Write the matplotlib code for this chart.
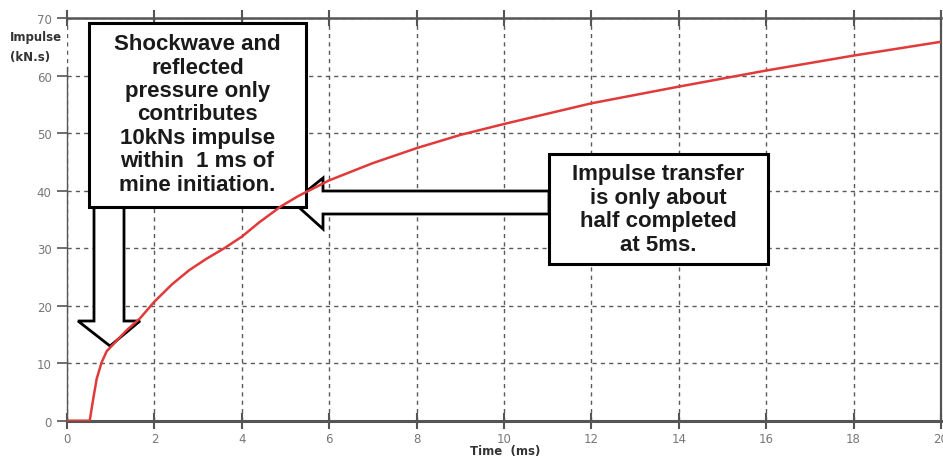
import matplotlib
matplotlib.use("Agg")
import matplotlib.pyplot as plt
from matplotlib.patches import Rectangle, Polygon
from matplotlib.transforms import Affine2D

# ---- data ----
time_ms = [0, 0.52, 0.60, 0.68, 0.79, 0.91, 1.06, 1.36, 1.67, 2.0, 2.4, 2.8,
           3.2, 3.6, 4.0, 4.4, 4.9, 5.3, 6.0, 7.0, 8.0, 9.0, 10.0, 12.0, 14.0,
           16.0, 18.0, 20.0]
impulse = [0, 0, 3.8, 7.3, 10.1, 12.1, 13.3, 15.7, 17.8, 20.7, 23.7, 26.2,
           28.2, 30.0, 32.0, 34.5, 37.3, 39.1, 41.8, 44.8, 47.4, 49.7, 51.6,
           55.2, 58.1, 60.9, 63.5, 65.9]
x_ticks = [0, 2, 4, 6, 8, 10, 12, 14, 16, 18, 20]
y_ticks = [0, 10, 20, 30, 40, 50, 60, 70]
box1_text = "Shockwave and\nreflected\npressure only\ncontributes\n10kNs impulse\nwithin  1 ms of\nmine initiation."
box2_text = "Impulse transfer\nis only about\nhalf completed\nat 5ms."

W, H = 943, 460
fig = plt.figure(figsize=(W / 100, H / 100), dpi=100)
ax = fig.add_axes([67 / W, 1 - 421.7 / H, (941 - 67) / W, (421.7 - 19.2) / H])

ax.set_xlim(0, 20)
ax.set_ylim(0, 70)
ax.set_xticks(x_ticks)
ax.set_yticks(y_ticks)
ax.set_xticklabels([str(t) for t in x_ticks])
ax.set_yticklabels([str(t) for t in y_ticks])

grid_col = "#5a5a5a"
ax.grid(True, color=grid_col, linestyle=(0, (3, 3)), linewidth=1.0, zorder=0)
ax.set_axisbelow(True)

for side, lw in [("bottom", 2.2), ("top", 1.8), ("left", 1.0), ("right", 1.6)]:
    ax.spines[side].set_color("#555555")
    ax.spines[side].set_linewidth(lw)
ax.spines["left"].set_bounds(0, 61.5)

ax.tick_params(axis="x", direction="inout", length=12, width=1.5, color="#555555",
               labelsize=8.5, labelcolor="#777777", pad=2, top=True)
ax.tick_params(axis="y", direction="out", length=7, width=1.2, color="#555555",
               labelsize=8.5, labelcolor="#777777", pad=4)

ax.plot(time_ms, impulse, color="#e03a3a", linewidth=1.8, zorder=6)

# pixel-coordinate transform (origin top-left)
px = Affine2D().scale(1, -1).translate(0, H).scale(1 / W, 1 / H) + fig.transFigure

# down arrow
down = Polygon([(94, 208), (124, 208), (124, 322), (140, 322), (110, 347),
                (78, 322), (94, 322)], closed=True, facecolor="white",
               edgecolor="black", linewidth=2.0, transform=px, zorder=3)
ax.add_artist(down)
# left arrow
left = Polygon([(549, 192), (323, 192), (323, 179), (293, 203), (323, 230),
                (323, 215), (549, 215)], closed=True, facecolor="white",
               edgecolor="black", linewidth=2.0, transform=px, zorder=3)
ax.add_artist(left)

# boxes
b1 = Rectangle((89, 24), 217, 184, facecolor="white", edgecolor="black",
               linewidth=2.2, transform=px, zorder=4)
ax.add_artist(b1)
b2 = Rectangle((549, 155), 219, 110, facecolor="white", edgecolor="black",
               linewidth=2.2, transform=px, zorder=4)
ax.add_artist(b2)

fig.text(197.5, 115, box1_text, transform=px, ha="center", va="center",
         fontsize=16, fontweight="bold", family="Liberation Sans",
         linespacing=1.15, color="#1a1a1a", zorder=10)
fig.text(658.5, 210, box2_text, transform=px, ha="center", va="center",
         fontsize=16, fontweight="bold", family="Liberation Sans",
         linespacing=1.15, color="#1a1a1a", zorder=10)

# axis labels
fig.text(10, 37, "Impulse", transform=px, ha="left", va="center",
         fontsize=8.5, fontweight="bold", color="#333333")
fig.text(10, 58, "(kN.s)", transform=px, ha="left", va="center",
         fontsize=8.5, fontweight="bold", color="#333333")
fig.text(505, 452, "Time  (ms)", transform=px, ha="center", va="center",
         fontsize=8.5, fontweight="bold", color="#333333")

fig.savefig("out.png", dpi=100)
